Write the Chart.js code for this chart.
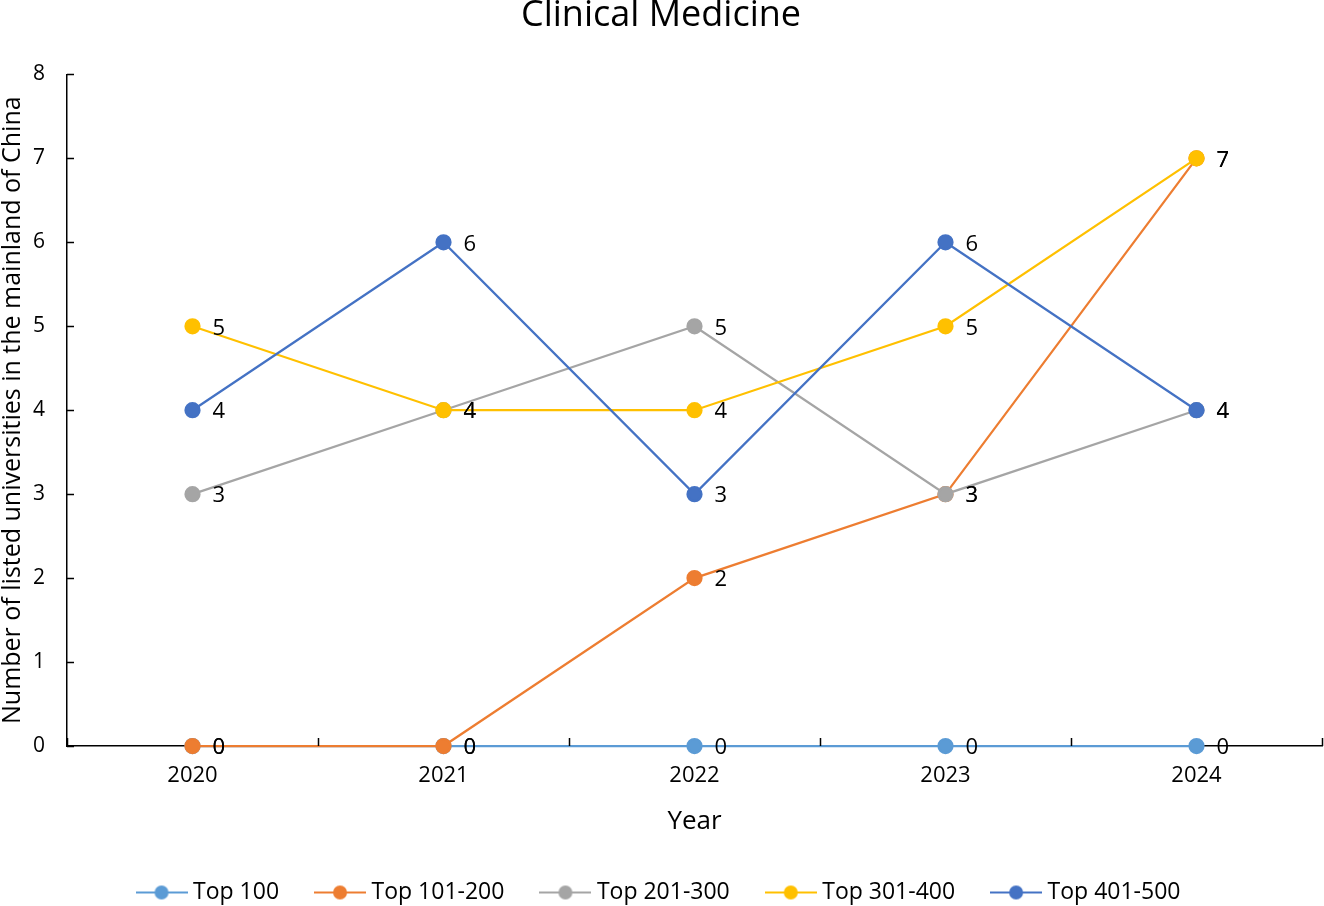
<!DOCTYPE html>
<html>
<head>
<meta charset="utf-8">
<title>Clinical Medicine</title>
<script src="https://cdn.jsdelivr.net/npm/chart.js@4.4.1/dist/chart.umd.min.js"></script>
<style>
  html, body { margin: 0; padding: 0; background: #fff; overflow: hidden; }
  #wrap { width: 1324px; height: 906px; }
</style>
</head>
<body>
<div id="wrap"><canvas id="chartClinical"></canvas></div>
<script>
// ── Data ──
const years = ['2020', '2021', '2022', '2023', '2024'];
const seriesNames = ['Top 100', 'Top 101-200', 'Top 201-300', 'Top 301-400', 'Top 401-500'];
const top100 = [0, 0, 0, 0, 0];
const top101_200 = [0, 0, 2, 3, 7];
const top201_300 = [3, 4, 5, 3, 4];
const top301_400 = [5, 4, 4, 5, 7];
const top401_500 = [4, 6, 3, 6, 4];
const yTicks = [0, 1, 2, 3, 4, 5, 6, 7, 8];

const colores = ['#5B9BD5', '#ED7D31', '#A5A5A5', '#FFC000', '#4472C4'];
const valores = [top100, top101_200, top201_300, top301_400, top401_500];
const FONT = '"Open Sans", "Noto Sans", sans-serif';

// legend marker: short line with a dot, like the spreadsheet legend
function legendMarker(color) {
    const c = document.createElement('canvas');
    c.width = 52; c.height = 16;
    const g = c.getContext('2d');
    g.strokeStyle = color; g.lineWidth = 2;
    g.beginPath(); g.moveTo(0, 8); g.lineTo(52, 8); g.stroke();
    g.fillStyle = color;
    g.beginPath(); g.arc(26, 8, 7, 0, Math.PI * 2); g.fill();
    return c;
}
const markers = colores.map(legendMarker);

// value labels to the right of each point
const valueLabels = {
    id: 'valueLabels',
    afterDatasetsDraw(chart) {
        const ctx = chart.ctx;
        ctx.save();
        ctx.font = '22px ' + FONT;
        ctx.fillStyle = '#000';
        ctx.textAlign = 'left';
        ctx.textBaseline = 'middle';
        chart.data.datasets.forEach((ds, i) => {
            chart.getDatasetMeta(i).data.forEach((pt, j) => {
                ctx.fillText(String(ds.data[j]), pt.x + 20, pt.y + 2);
            });
        });
        ctx.restore();
    }
};

// inside tick marks on both axes
const insideTicks = {
    id: 'insideTicks',
    afterDraw(chart) {
        const { ctx, chartArea, scales } = chart;
        ctx.save();
        ctx.strokeStyle = '#000';
        ctx.lineWidth = 1.5;
        ctx.beginPath();
        yTicks.forEach(v => {
            const y = Math.round(scales.y.getPixelForValue(v)) + 0.5;
            ctx.moveTo(chartArea.left, y);
            ctx.lineTo(chartArea.left + 7, y);
        });
        const half = (scales.x.getPixelForValue(1) - scales.x.getPixelForValue(0)) / 2;
        for (let i = 0; i <= years.length; i++) {
            const x = Math.round(scales.x.getPixelForValue(i) - half) + 0.5;
            ctx.moveTo(x, chartArea.bottom);
            ctx.lineTo(x, chartArea.bottom - 8);
        }
        ctx.stroke();
        ctx.restore();
    }
};

new Chart(document.getElementById('chartClinical'), {
    type: 'line',
    data: {
        labels: years,
        datasets: seriesNames.map((name, i) => ({
            label: name,
            data: valores[i],
            borderColor: colores[i],
            backgroundColor: colores[i],
            pointBackgroundColor: colores[i],
            pointBorderColor: colores[i],
            borderWidth: 2.25,
            pointRadius: 7,
            pointHoverRadius: 7,
            tension: 0,
            clip: false,
            order: seriesNames.length - i,
        }))
    },
    options: {
        responsive: true,
        maintainAspectRatio: false,
        animation: false,
        layout: { autoPadding: false, padding: { left: 0, right: 2, top: 0, bottom: -8 } },
        plugins: {
            title: {
                display: true,
                text: 'Clinical Medicine',
                color: '#000',
                font: { family: FONT, size: 36, weight: 'normal', lineHeight: 0.9 },
                padding: { top: 0, bottom: 42 }
            },
            legend: {
                position: 'bottom',
                labels: {
                    color: '#000',
                    font: { family: FONT, size: 23 },
                    usePointStyle: true,
                    pointStyleWidth: 40,
                    padding: 41,
                    sort: (a, b) => a.datasetIndex - b.datasetIndex,
                    generateLabels(chart) {
                        const items = Chart.defaults.plugins.legend.labels.generateLabels(chart);
                        items.forEach(it => { it.pointStyle = markers[it.datasetIndex]; });
                        return items;
                    }
                }
            },
            tooltip: { enabled: false }
        },
        scales: {
            x: {
                offset: true,
                grid: { display: false, drawTicks: false },
                border: { display: true, color: '#000', width: 1.5 },
                ticks: { color: '#000', font: { family: FONT, size: 22 }, padding: 17 },
                title: {
                    display: true, text: 'Year', color: '#000',
                    font: { family: FONT, size: 26 }, padding: { top: 0, bottom: 3 }
                },
                afterFit(scale) { scale.height = 94; scale.paddingLeft = 0; scale.paddingRight = 0; }
            },
            y: {
                min: 0, max: 8,
                grid: { display: false, drawTicks: false },
                border: { display: true, color: '#000', width: 1.5 },
                ticks: { stepSize: 1, color: '#000', font: { family: FONT, size: 21 }, padding: 22 },
                title: {
                    display: true, text: 'Number of listed universities in the mainland of China', color: '#000',
                    font: { family: FONT, size: 25, lineHeight: 1 }, padding: { top: 0, bottom: 0 }
                },
                afterFit(scale) { scale.width = 67; }
            }
        }
    },
    plugins: [valueLabels, insideTicks]
});
</script>
</body>
</html>
